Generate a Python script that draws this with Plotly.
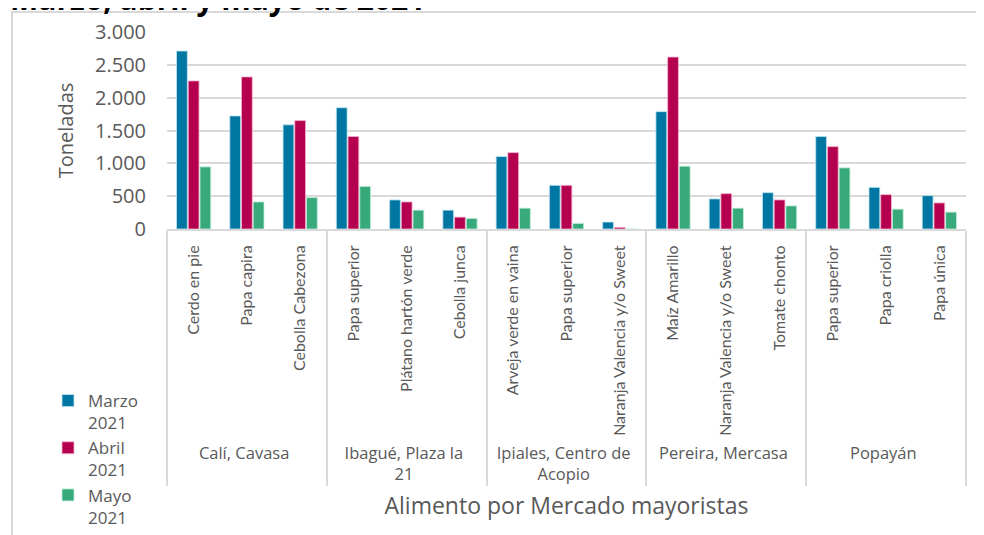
import plotly.graph_objects as go

group_names = ["Calí, Cavasa", "Ibagué, Plaza la<br>21", "Ipiales, Centro de<br>Acopio", "Pereira, Mercasa", "Popayán"]
groups = [g for g in group_names for _ in range(3)]
foods = ["Cerdo en pie", "Papa capira", "Cebolla Cabezona",
         "Papa superior", "Plátano hartón verde", "Cebolla junca",
         "Arveja verde en vaina", "Papa superior", "Naranja Valencia y/o Sweet",
         "Maíz Amarillo", "Naranja Valencia y/o Sweet", "Tomate chonto",
         "Papa superior", "Papa criolla", "Papa única"]
marzo = [2710, 1722, 1586, 1847, 443, 287, 1103, 665, 106, 1787, 458, 553, 1409, 634, 508]
abril = [2255, 2316, 1651, 1409, 412, 181, 1163, 665, 25, 2618, 538, 443, 1254, 523, 397]
mayo = [946, 412, 478, 649, 287, 161, 317, 85, 0, 956, 317, 352, 931, 302, 257]
series_names = ["Marzo<br>2021", "Abril<br>2021", "Mayo<br>2021"]
colors = ["#0076A3", "#B4004E", "#38A97A"]
outlines = ["#bfe3f0", "#f5b5cf", "#c2eedb"]


def outer_label(text):
    return "<br>".join(
        "<span style='font-family:Open Sans;font-size:16.5px'>%s</span>" % part
        for part in text.split("<br>"))


# keep repeated product names distinct within the multicategory axis
seen = {}
inner = []
for f in foods:
    n = seen.get(f, 0)
    seen[f] = n + 1
    inner.append(f + "\u200b" * n)
outer = [outer_label(g) for g in groups]

fig = go.Figure()
for name, vals, c, o in zip(series_names, [marzo, abril, mayo], colors, outlines):
    fig.add_trace(go.Bar(x=[outer, inner], y=vals, name=name, marker_color=c,
                         marker_line_color=o, marker_line_width=0.8))

OFF = 8  # page body margin
W, H = 984, 535
# plot area in page pixels
PL, PR, PT, PB = 167, 966, 32, 229
L, T = PL - OFF, PT - OFF
R = W - (PR - OFF)
B = H - (PB - OFF)
pw, ph = W - L - R, H - T - B


def px_x(p):
    return (p - OFF - L) / pw


def px_y(p):
    return (PB - p) / ph


grey = "#595959"
fig.update_layout(
    width=W, height=H,
    margin=dict(l=L, r=R, t=T, b=B, autoexpand=False),
    paper_bgcolor="white", plot_bgcolor="white",
    separators=",.",
    barmode="group", bargap=0.34, bargroupgap=0.08,
    font=dict(family="Open Sans", color=grey),
    legend=dict(x=px_x(48), y=px_y(383), xanchor="left", yanchor="top",
                font=dict(size=17, color=grey, family="Open Sans"), valign="top",
                bgcolor="rgba(0,0,0,0)", tracegroupgap=0, itemwidth=30),
    xaxis=dict(type="multicategory", tickangle=-90, showgrid=False,
               showline=True, linecolor="#d9d9d9", linewidth=2,
               showdividers=True, dividercolor="#d9d9d9", dividerwidth=2,
               tickfont=dict(size=16, color=grey, family="Lato"),
               ticklabelstandoff=8, automargin=False,
               title=dict(text="Alimento por Mercado mayoristas",
                          font=dict(size=23, color=grey, family="Open Sans"), standoff=14)),
    yaxis=dict(range=[0, 3000], dtick=500, tickformat=",d", showgrid=True,
               gridcolor="#d9d9d9", gridwidth=1.5, zeroline=False, showline=False,
               tickfont=dict(size=20, color=grey, family="Open Sans"),
               ticklabelstandoff=20, automargin=False,
               title=dict(text="Toneladas", font=dict(size=20, color=grey, family="Open Sans"), standoff=16)),
)

fig.add_annotation(text="<b>Marzo, abril y mayo de 2021</b>", xref="paper", yref="paper",
                   x=px_x(8), y=px_y(21.5), xanchor="left", yanchor="bottom",
                   showarrow=False, font=dict(size=30, color="black", family="Open Sans"))

fig.add_shape(type="rect", xref="paper", yref="paper",
              x0=px_x(12), x1=px_x(1010), y0=px_y(560), y1=px_y(12),
              line=dict(color="#d9d9d9", width=2), layer="below")

fig.write_html("out.html")
